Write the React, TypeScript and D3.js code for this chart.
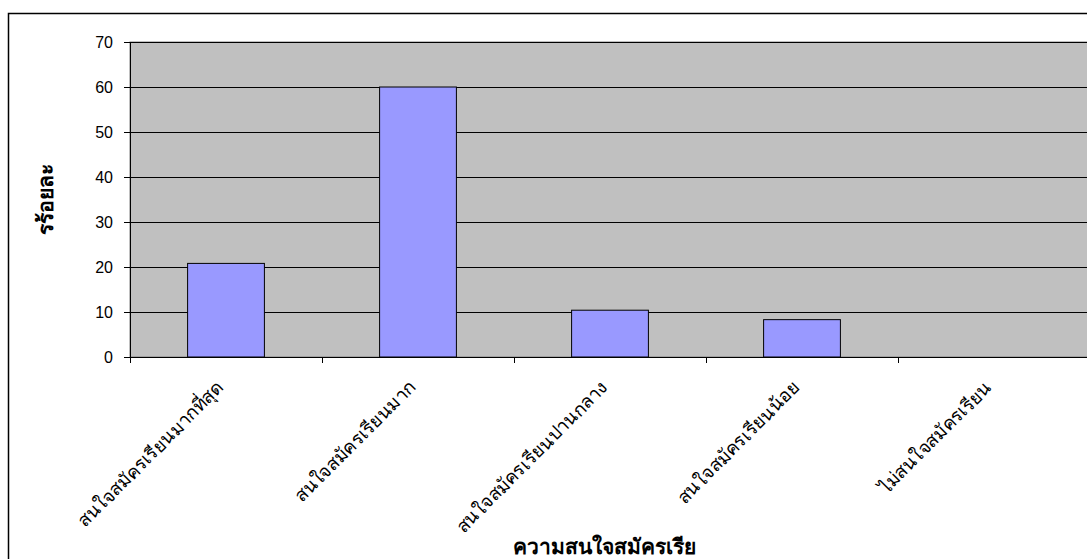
import React from 'react';
import * as d3 from 'd3';

const categories = [
  'สนใจสมัครเรียนมากที่สุด',
  'สนใจสมัครเรียนมาก',
  'สนใจสมัครเรียนปานกลาง',
  'สนใจสมัครเรียนน้อย',
  'ไม่สนใจสมัครเรียน',
];
const values = [20.8, 60, 10.4, 8.3, 0];
const yTicks = [0, 10, 20, 30, 40, 50, 60, 70];
const yTitle = 'รร้อยละ';
const xTitle = 'ความสนใจสมัครเรีย';

const W = 1087;
const H = 559;
const plot = { left: 130, top: 42, right: 1090, bottom: 357 };
const thaiFont = "Tahoma, 'Noto Sans', 'DejaVu Sans', sans-serif";

const App = () => {
  const x = d3
    .scaleBand<string>()
    .domain(categories)
    .range([plot.left, plot.right])
    .paddingInner(0.6)
    .paddingOuter(0.3);

  const band = d3.scaleBand<string>().domain(categories).range([plot.left, plot.right]);

  const y = d3.scaleLinear().domain([0, 70]).range([plot.bottom, plot.top]);

  // category boundaries for ticks on the x axis
  const boundaries = categories.slice(1).map((c) => band(c)!);

  return (
    <svg
      width={W}
      height={H}
      style={{ position: 'absolute', left: 0, top: 0, background: '#fff' }}
    >
      {/* outer chart frame, runs off the right and bottom */}
      <rect x={8.5} y={13.5} width={W + 20} height={H + 20} fill="#fff" stroke="#000" strokeWidth={1.5} />

      <rect
        x={plot.left}
        y={plot.top}
        width={plot.right - plot.left}
        height={plot.bottom - plot.top}
        fill="#C0C0C0"
        stroke="#808080"
      />

      {yTicks.map((t) => (
        <g key={t}>
          {t > 0 && (
            <line x1={plot.left} x2={plot.right} y1={y(t) + 0.5} y2={y(t) + 0.5} stroke="#000" strokeWidth={1} />
          )}
          <line x1={plot.left - 6} x2={plot.left} y1={y(t) + 0.5} y2={y(t) + 0.5} stroke="#000" />
          <text
            x={113}
            y={y(t)}
            dy="0.35em"
            textAnchor="end"
            fontFamily="Arial, 'Liberation Sans', sans-serif"
            fontSize={16}
            fill="#000"
          >
            {t}
          </text>
        </g>
      ))}

      {categories.map((c, i) => (
        <rect
          key={c}
          x={x(c)!}
          y={y(values[i])}
          width={x.bandwidth()}
          height={plot.bottom - y(values[i])}
          fill="#9999FF"
          stroke="#000"
          strokeWidth={1}
        />
      ))}

      {/* axes */}
      <line x1={plot.left + 0.5} x2={plot.left + 0.5} y1={plot.top} y2={plot.bottom + 6} stroke="#000" />
      <line x1={plot.left} x2={plot.right} y1={plot.bottom + 0.5} y2={plot.bottom + 0.5} stroke="#000" />
      {boundaries.map((b) => (
        <line key={b} x1={b + 0.5} x2={b + 0.5} y1={plot.bottom} y2={plot.bottom + 6} stroke="#000" />
      ))}

      {categories.map((c) => {
        const cx = band(c)! + band.bandwidth() / 2 - 6;
        const cy = plot.bottom + 27;
        return (
          <text
            key={c}
            transform={`translate(${cx},${cy}) rotate(-45)`}
            textAnchor="end"
            dy="0.35em"
            fontFamily={thaiFont}
            fontSize={18.5}
            fill="#000"
          >
            {c}
          </text>
        );
      })}

      <text
        transform={`translate(46,${(plot.top + plot.bottom) / 2}) rotate(-90)`}
        textAnchor="middle"
        dy="0.35em"
        fontFamily={thaiFont}
        fontWeight="bold"
        fontSize={21}
        fill="#000"
      >
        {yTitle}
      </text>

      <text
        x={604}
        y={547}
        textAnchor="middle"
        dy="0.35em"
        fontFamily={thaiFont}
        fontWeight="bold"
        fontSize={21}
        fill="#000"
      >
        {xTitle}
      </text>
    </svg>
  );
};

export default App;
